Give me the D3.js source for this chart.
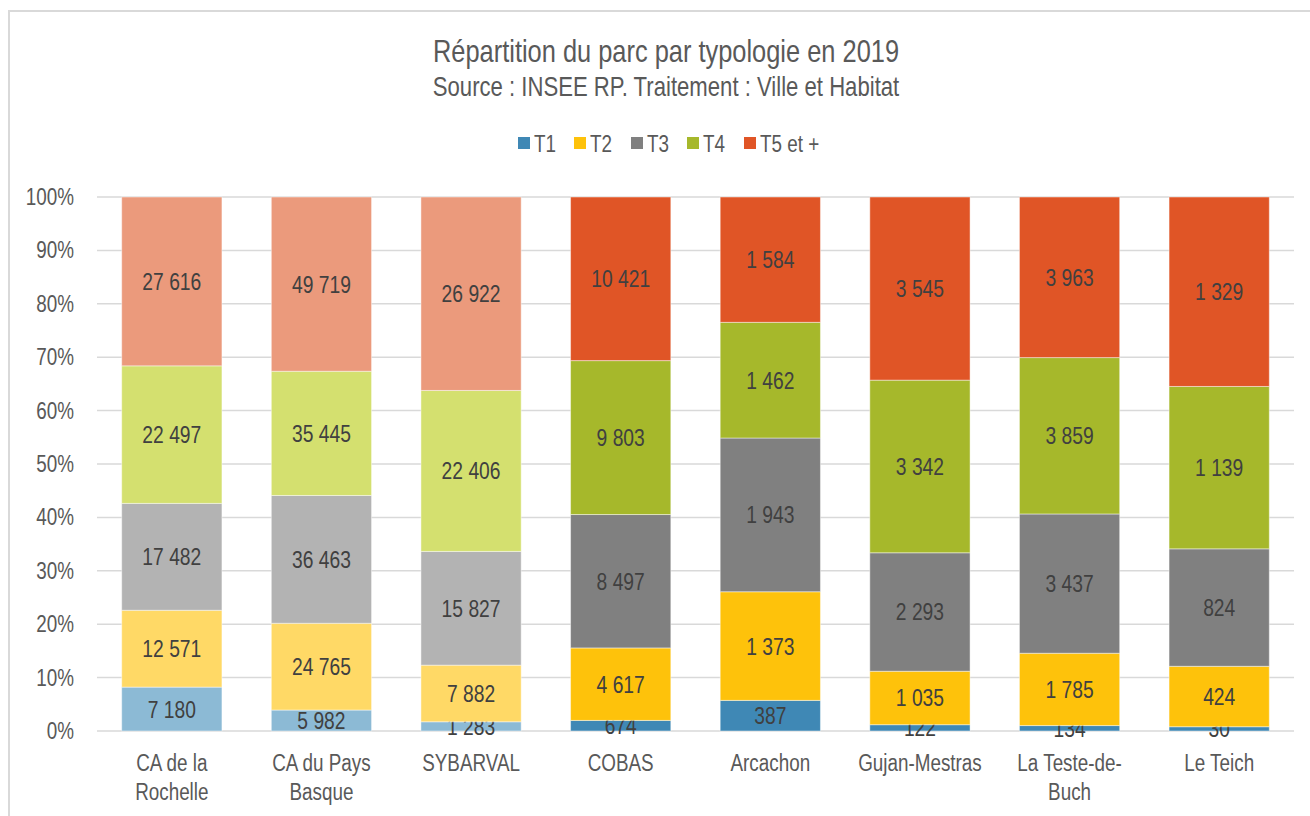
<!DOCTYPE html>
<html>
<head>
<meta charset="utf-8">
<script src="https://cdn.jsdelivr.net/npm/d3@7"></script>
<style>
  body { margin: 0; background: #fff; }
  text { font-family: "Liberation Sans", Arial, sans-serif; }
</style>
</head>
<body>
<svg id="chart" width="1310" height="816"></svg>
<script>
// categories and series (dwelling counts by type)
var territories = ["CA de la Rochelle", "CA du Pays Basque", "SYBARVAL", "COBAS", "Arcachon", "Gujan-Mestras", "La Teste-de-Buch", "Le Teich"];
var xLabels = [["CA de la", "Rochelle"], ["CA du Pays", "Basque"], ["SYBARVAL"], ["COBAS"], ["Arcachon"], ["Gujan-Mestras"], ["La Teste-de-", "Buch"], ["Le Teich"]];
var seriesNames = ["T1", "T2", "T3", "T4", "T5 et +"];
var t1 = [7180, 5982, 1283, 674, 387, 122, 134, 30];
var t2 = [12571, 24765, 7882, 4617, 1373, 1035, 1785, 424];
var t3 = [17482, 36463, 15827, 8497, 1943, 2293, 3437, 824];
var t4 = [22497, 35445, 22406, 9803, 1462, 3342, 3859, 1139];
var t5 = [27616, 49719, 26922, 10421, 1584, 3545, 3963, 1329];
var yTicks = [0, 0.1, 0.2, 0.3, 0.4, 0.5, 0.6, 0.7, 0.8, 0.9, 1];

var darkColors = ["#3f88b5", "#fec20b", "#808080", "#a6b82b", "#e05526"];
var lightColors = ["#8cbad5", "#ffd966", "#b3b3b3", "#d4e06f", "#eb9a7c"];
var lightCount = 3; // first three territories drawn in lighter tints

var NARROW = 0.82; // Arial squeezed to look like Arial Narrow

var table = territories.map(function(name, i) {
  var row = { name: name, i: i };
  row["T1"] = t1[i]; row["T2"] = t2[i]; row["T3"] = t3[i]; row["T4"] = t4[i]; row["T5 et +"] = t5[i];
  return row;
});

var svg = d3.select("#chart");
var margin = { left: 97, right: 16, top: 197, bottom: 85 };
var W = 1310, H = 816;

// put a text at (x,y) and squeeze it horizontally
function place(sel, fx, fy) {
  sel.attr("transform", function(d, i) {
    return "translate(" + fx(d, i) + "," + fy(d, i) + ") scale(" + NARROW + ",1)";
  });
  return sel;
}

// frame
svg.append("path")
  .attr("d", "M9,816 V11 H1310")
  .attr("fill", "none")
  .attr("stroke", "#d9d9d9")
  .attr("stroke-width", 2);

var x = d3.scaleBand()
  .domain(territories)
  .range([margin.left, W - margin.right])
  .paddingInner(0.33)
  .paddingOuter(0.165);

var y = d3.scaleLinear()
  .domain([0, 1])
  .range([H - margin.bottom, margin.top]);

// gridlines
svg.append("g")
  .selectAll("line")
  .data(yTicks)
  .enter().append("line")
  .attr("x1", margin.left)
  .attr("x2", W - margin.right)
  .attr("y1", function(d) { return y(d); })
  .attr("y2", function(d) { return y(d); })
  .attr("stroke", "#d9d9d9")
  .attr("stroke-width", 1.5);

// y axis labels
var pct = d3.format(".0%");
svg.append("g")
  .selectAll("text")
  .data(yTicks)
  .enter().append("text")
  .attr("text-anchor", "end")
  .attr("dy", "0.35em")
  .attr("fill", "#595959")
  .style("font-size", "23px")
  .text(function(d) { return pct(d); })
  .call(place, function() { return 74; }, function(d) { return y(d); });

// 100% stack
var stack = d3.stack()
  .keys(seriesNames)
  .offset(d3.stackOffsetExpand);
var layers = stack(table);

var layer = svg.append("g")
  .selectAll("g")
  .data(layers)
  .enter().append("g");

var segs = function(d) { return d.map(function(p) { return { key: d.key, idx: d.index, p: p }; }); };

layer.selectAll("rect")
  .data(segs)
  .enter().append("rect")
  .attr("x", function(d) { return x(d.p.data.name); })
  .attr("width", x.bandwidth())
  .attr("y", function(d) { return y(d.p[1]); })
  .attr("height", function(d) { return y(d.p[0]) - y(d.p[1]); })
  .attr("fill", function(d) { return d.p.data.i < lightCount ? lightColors[d.idx] : darkColors[d.idx]; })
  .attr("stroke", "rgba(255,255,255,0.45)")
  .attr("stroke-width", 1);

var fmt = function(v) { return d3.format(",")(v).replace(/,/g, " "); };

layer.selectAll("text")
  .data(segs)
  .enter().append("text")
  .attr("dy", "0.36em")
  .attr("text-anchor", "middle")
  .attr("fill", "#404040")
  .style("font-size", "23.5px")
  .text(function(d) { return fmt(d.p.data[d.key]); })
  .call(place,
    function(d) { return x(d.p.data.name) + x.bandwidth() / 2; },
    function(d) { return (y(d.p[0]) + y(d.p[1])) / 2; });

// x labels
var xl = svg.append("g")
  .selectAll("text")
  .data(territories)
  .enter().append("text")
  .attr("text-anchor", "middle")
  .attr("fill", "#595959")
  .style("font-size", "23px")
  .call(place, function(d) { return x(d) + x.bandwidth() / 2; }, function() { return 771; });
xl.selectAll("tspan")
  .data(function(d, i) { return xLabels[i]; })
  .enter().append("tspan")
  .attr("x", 0)
  .attr("dy", function(d, i) { return i === 0 ? 0 : 29; })
  .text(function(d) { return d; });

// title
svg.append("text")
  .attr("text-anchor", "middle")
  .attr("fill", "#595959")
  .style("font-size", "31px")
  .text("Répartition du parc par typologie en 2019")
  .call(place, function() { return 666; }, function() { return 62; });
svg.append("text")
  .attr("text-anchor", "middle")
  .attr("fill", "#595959")
  .style("font-size", "27px")
  .text("Source : INSEE RP. Traitement : Ville et Habitat")
  .call(place, function() { return 666; }, function() { return 96; });

// legend
var legendX = [518, 574, 631, 687, 744];
var legend = svg.append("g")
  .selectAll("g")
  .data(seriesNames)
  .enter().append("g")
  .attr("transform", function(d, i) { return "translate(" + legendX[i] + ",137)"; });
legend.append("rect")
  .attr("width", 12).attr("height", 12)
  .attr("fill", function(d, i) { return darkColors[i]; });
legend.append("text")
  .attr("dy", "0.35em")
  .attr("fill", "#595959")
  .style("font-size", "23px")
  .text(function(d) { return d; })
  .call(place, function() { return 16; }, function() { return 6.5; });
</script>
</body>
</html>
